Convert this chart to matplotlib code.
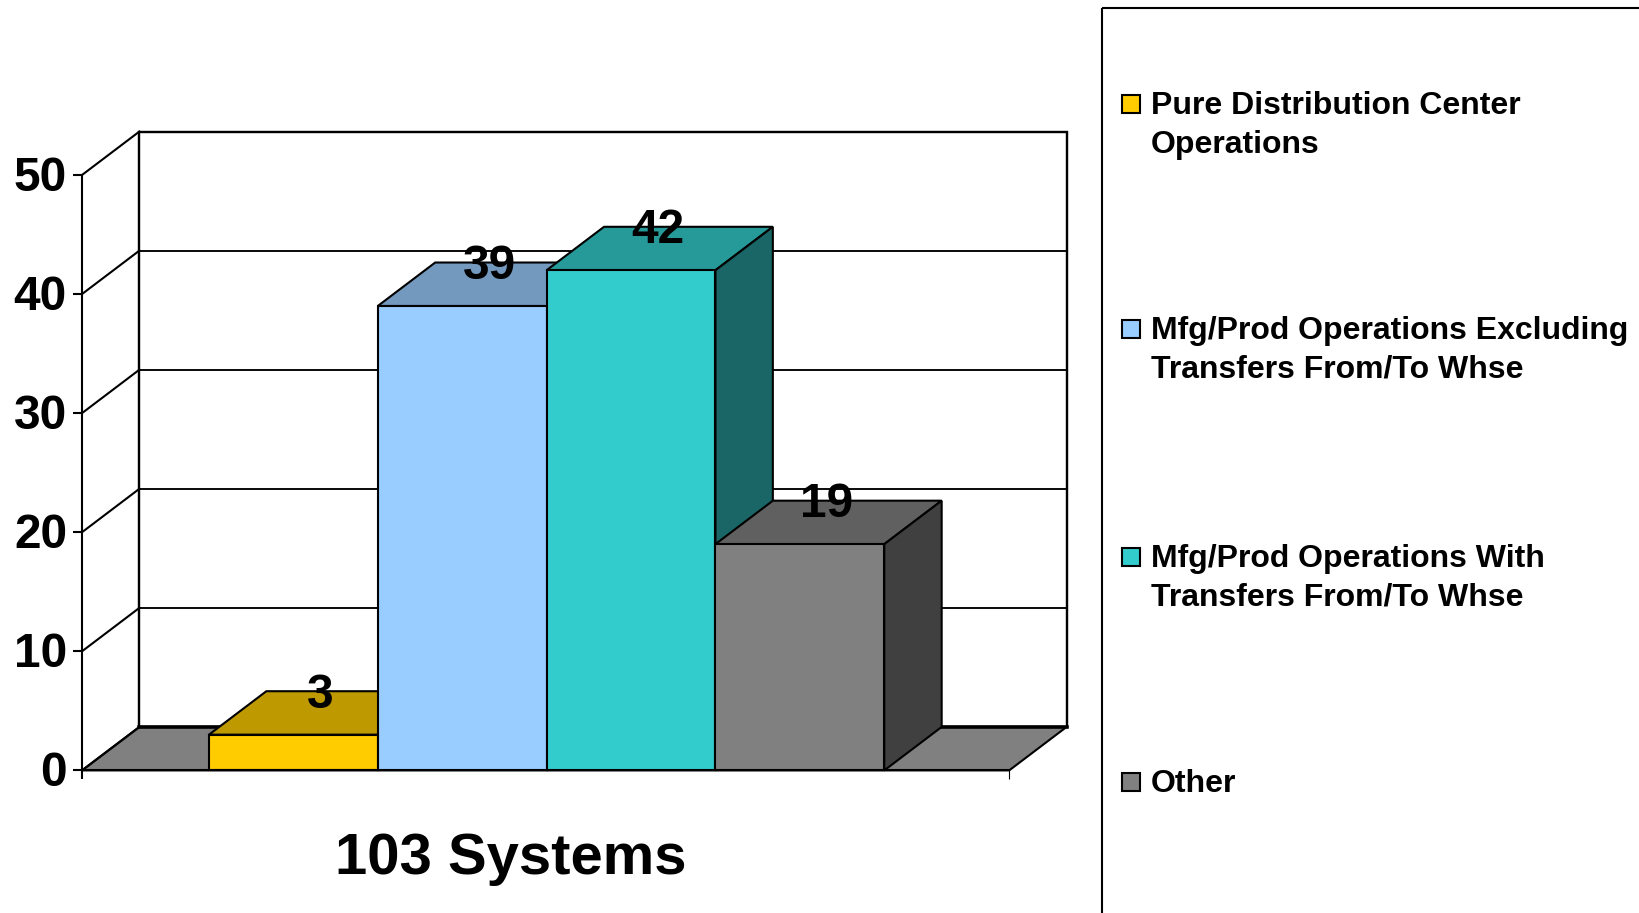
"""
103 systems by operation type, drawn as a 3D looking column chart
"""

from matplotlib import pyplot as plt
from matplotlib.colors import to_rgb
from matplotlib.patches import Polygon, Rectangle
from matplotlib.transforms import ScaledTranslation

plt.rcParams["font.family"] = ["Liberation Sans", "DejaVu Sans"]
plt.rcParams["font.weight"] = "bold"

categories = [
    "Pure Distribution Center\nOperations",
    "Mfg/Prod Operations Excluding\nTransfers From/To Whse",
    "Mfg/Prod Operations With\nTransfers From/To Whse",
    "Other",
]
values = [3, 39, 42, 19]
colors = ["#FFCC00", "#99CCFF", "#33CCCC", "#808080"]
y_ticks = [0, 10, 20, 30, 40, 50]
x_label = "103 Systems"

W, H = 1639, 913
LINE = 1.5
# depth of the fake 3D box, in data units
DX = 0.34
DY = 3.65
XMIN, XMAX = -0.752, 4.74


def shade(color, k):
    return tuple(c * k for c in to_rgb(color))


fig = plt.figure(figsize=(W / 100, H / 100), dpi=100)
ax = fig.add_axes([82 / W, (H - 770.4) / H, 927.2 / W, 595.4 / H])
ax.set_xlim(XMIN, XMAX)
ax.set_ylim(0, 50)
for side in ["top", "right"]:
    ax.spines[side].set_visible(False)
for side in ["left", "bottom"]:
    ax.spines[side].set_linewidth(LINE)
ax.patch.set_alpha(0)

ax.set_yticks(y_ticks)
ax.set_xticks([XMIN, XMAX])
ax.set_xticklabels(["", ""])
ax.tick_params(axis="y", labelsize=34.5, width=LINE, length=6.5, pad=4.3)
ax.tick_params(axis="x", width=LINE, length=6.2)
ax.xaxis.get_major_ticks()[1].tick1line.set_markeredgewidth(0.8)
ax.set_xlabel(x_label, fontsize=41.8, fontweight="bold", x=0.4625, labelpad=35)

# tick labels sit a little above their ticks
up = ScaledTranslation(0, 1.2 / 72, fig.dpi_scale_trans)
for lab in ax.get_yticklabels():
    lab.set_transform(lab.get_transform() + up)

# floor
ax.add_patch(
    Polygon(
        [(XMIN, 0), (XMAX, 0), (XMAX + DX, DY), (XMIN + DX, DY)],
        facecolor="#808080",
        edgecolor="black",
        linewidth=LINE,
        clip_on=False,
        zorder=1,
    )
)
# back wall and side wall, with the grid running over both
ax.add_patch(
    Rectangle(
        (XMIN + DX, DY),
        XMAX - XMIN,
        y_ticks[-1],
        facecolor="none",
        edgecolor="black",
        linewidth=LINE * 1.15,
        clip_on=False,
        zorder=1.5,
    )
)
ax.plot(
    [XMIN + DX, XMAX + DX],
    [DY, DY],
    color="black",
    linewidth=LINE * 1.7,
    clip_on=False,
    zorder=1.5,
)
for t in y_ticks:
    ax.plot(
        [XMIN, XMIN + DX],
        [t, t + DY],
        color="black",
        linewidth=LINE,
        clip_on=False,
        zorder=1.5,
    )
    if t not in (y_ticks[0], y_ticks[-1]):
        ax.plot(
            [XMIN + DX, XMAX + DX],
            [t + DY, t + DY],
            color="black",
            linewidth=LINE * 0.9,
            clip_on=False,
            zorder=1.5,
        )

# columns, left to right so each one covers the side of the one before
for i, (v, c) in enumerate(zip(values, colors)):
    z = 2 + i
    ax.add_patch(
        Polygon(
            [(i, v), (i + 1, v), (i + 1 + DX, v + DY), (i + DX, v + DY)],
            facecolor=shade(c, 0.75),
            edgecolor="black",
            linewidth=LINE,
            clip_on=False,
            zorder=z,
        )
    )
    ax.add_patch(
        Polygon(
            [(i + 1, 0), (i + 1 + DX, DY), (i + 1 + DX, v + DY), (i + 1, v)],
            facecolor=shade(c, 0.5),
            edgecolor="black",
            linewidth=LINE,
            clip_on=False,
            zorder=z,
        )
    )
    ax.bar(
        i + 0.5,
        v,
        width=1,
        color=c,
        edgecolor="black",
        linewidth=LINE,
        clip_on=False,
        zorder=z,
    )
    ax.text(
        i + 0.49 + DX / 2,
        v + DY + 0.1,
        str(v),
        ha="center",
        va="center_baseline",
        fontsize=34.5,
        fontweight="bold",
        zorder=10,
    )

# legend, laid out in pixels on its own overlay
lax = fig.add_axes([0, 0, 1, 1])
lax.set_xlim(0, W)
lax.set_ylim(H, 0)
lax.axis("off")
lax.patch.set_alpha(0)
lax.add_patch(
    Rectangle(
        (1102, 8), W, H, facecolor="none", edgecolor="black", linewidth=LINE, clip_on=True
    )
)
legend_y = [104, 329, 557, 782]
for y, label, c in zip(legend_y, categories, colors):
    lax.add_patch(
        Rectangle((1122, y - 9), 18, 18, facecolor=c, edgecolor="black", linewidth=LINE)
    )
    lax.text(
        1151,
        y - 12.5,
        label,
        ha="left",
        va="top",
        fontsize=23.05,
        fontweight="bold",
        linespacing=1.35,
    )

fig.savefig("out.png", dpi=100)
